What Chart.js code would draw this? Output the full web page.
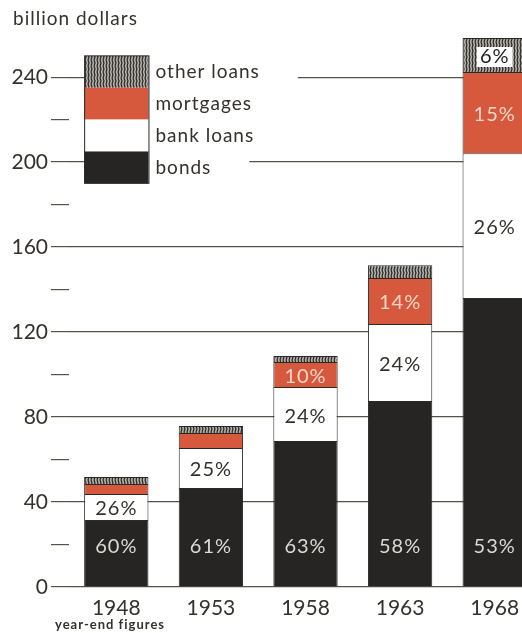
<!DOCTYPE html>
<html>
<head>
<meta charset="utf-8">
<script src="https://cdn.jsdelivr.net/npm/chart.js@4.4.0/dist/chart.umd.min.js"></script>
<style>
  html, body { margin: 0; padding: 0; background: #fff; overflow: hidden; }
  #wrap { width: 545px; height: 633px; }
</style>
</head>
<body>
<div id="wrap"><canvas id="chart" width="545" height="633"></canvas></div>
<script>
// data (billion dollars, year-end)
const years = ["1948", "1953", "1958", "1963", "1968"];
const bonds = [31.5, 46.6, 68.7, 87.5, 136];
const bankLoans = [12.3, 18.8, 25.4, 36.3, 68.2];
const mortgages = [4.7, 7.1, 11.8, 21.6, 38.2];
const otherLoans = [3.3, 3.3, 2.8, 6.1, 16];
// printed shares
const bondsPct = [60, 61, 63, 58, 53];
const bankPct = [26, 25, 24, 24, 26];
const mortgagePct = [null, null, 10, 14, 15];
const otherPct = [null, null, null, null, 6];

const FONT = "Lato, 'Noto Sans', sans-serif";
const INK = "#35312c";

function hatchPattern() {
  const c = document.createElement("canvas");
  c.width = 3; c.height = 6;
  const g = c.getContext("2d");
  g.fillStyle = "#b4b0aa";
  g.fillRect(0, 0, 3, 6);
  g.strokeStyle = "#24221f";
  g.lineWidth = 1.2;
  g.beginPath();
  g.moveTo(1, 0); g.lineTo(2, 3); g.lineTo(1, 6);
  g.stroke();
  return g.createPattern(c, "repeat");
}

// percent labels inside the bar segments
const pctLabels = {
  id: "pctLabels",
  afterDatasetsDraw(chart) {
    const ctx = chart.ctx;
    const y = chart.scales.y;
    ctx.save();
    ctx.font = "20px " + FONT;
    ctx.letterSpacing = "1px";
    ctx.textAlign = "center";
    ctx.textBaseline = "middle";
    chart.data.datasets.forEach((ds, di) => {
      const meta = chart.getDatasetMeta(di);
      ds.pct.forEach((p, i) => {
        if (p == null) return;
        const el = meta.data[i];
        const txt = p + "%";
        let py = di === 0 ? y.getPixelForValue(19) : (el.y + el.base) / 2 + 2;
        if (ds.pctBox) {
          const w = ctx.measureText(txt).width;
          ctx.fillStyle = "#fff";
          ctx.fillRect(el.x - w / 2 - 3, py - 10, w + 6, 20);
        }
        ctx.fillStyle = ds.pctColor;
        ctx.fillText(txt, el.x, py);
      });
    });
    ctx.restore();
  }
};

// legend box in the upper left, plus the two captions
const sideLegend = {
  id: "sideLegend",
  afterDraw(chart) {
    const ctx = chart.ctx;
    const y = chart.scales.y;
    const first = chart.getDatasetMeta(0).data[0];
    const x0 = first.x - first.width / 2;
    const w = first.width;
    const rows = chart.data.datasets.slice().reverse();
    const top = y.getPixelForValue(250);
    const rh = (y.getPixelForValue(190) - top) / rows.length;
    ctx.save();
    ctx.font = "19px " + FONT;
    ctx.letterSpacing = "1px";
    ctx.textBaseline = "middle";
    rows.forEach((ds, i) => {
      const ry = top + i * rh;
      const tw = ctx.measureText(ds.label).width;
      ctx.fillStyle = "#fff";
      ctx.fillRect(x0 + w, ry, tw + 45, rh);
      ctx.fillStyle = ds.backgroundColor;
      ctx.fillRect(x0, ry, w, rh);
      ctx.fillStyle = INK;
      ctx.fillText(ds.label, x0 + w + 7, ry + rh / 2);
    });
    ctx.strokeStyle = "#2b2926";
    ctx.lineWidth = 1;
    ctx.strokeRect(x0 + 0.5, top, w, rh * rows.length);
    ctx.font = "19px " + FONT;
    ctx.fillText("billion dollars", 13, 19);
    ctx.font = "bold 13px " + FONT;
    ctx.letterSpacing = "1px";
    ctx.fillText("year-end figures", 55, 625);
    ctx.restore();
  }
};

new Chart(document.getElementById("chart"), {
  type: "bar",
  data: {
    labels: years,
    datasets: [
      { label: "bonds", data: bonds, backgroundColor: "#272523", pct: bondsPct, pctColor: "#dcdad6" },
      { label: "bank loans", data: bankLoans, backgroundColor: "#ffffff", pct: bankPct, pctColor: INK },
      { label: "mortgages", data: mortgages, backgroundColor: "#d6593e", pct: mortgagePct, pctColor: "#f6d6c6" },
      { label: "other loans", data: otherLoans, backgroundColor: hatchPattern(), pct: otherPct, pctColor: "#1e1c1a", pctBox: true }
    ].map(d => Object.assign(d, {
      borderColor: "#2b2926",
      borderWidth: 1,
      barPercentage: 0.68,
      categoryPercentage: 1
    }))
  },
  options: {
    responsive: false,
    animation: false,
    layout: { padding: { top: 24, right: 3, left: 0, bottom: 0 } },
    plugins: { legend: { display: false }, tooltip: { enabled: false } },
    scales: {
      x: {
        stacked: true,
        grid: { display: false },
        border: { display: false },
        afterFit: s => { s.height = 46; },
        ticks: { padding: 1, color: INK, font: { family: FONT, size: 21 } }
      },
      y: {
        stacked: true,
        min: 0,
        max: 265,
        border: { display: false },
        afterFit: s => { s.width = 69; },
        ticks: {
          stepSize: 20,
          padding: 3,
          color: INK,
          font: { family: FONT, size: 21 },
          callback: v => (v % 40 === 0 ? v : "")
        },
        grid: {
          tickLength: 18,
          lineWidth: 1.2,
          color: c => (c.tick && c.tick.value % 40 === 0 ? "#55514b" : "rgba(0,0,0,0)"),
          tickColor: c => (c.tick && c.tick.value % 20 === 0 ? "#55514b" : "rgba(0,0,0,0)")
        }
      }
    }
  },
  plugins: [pctLabels, sideLegend]
});
</script>
</body>
</html>
